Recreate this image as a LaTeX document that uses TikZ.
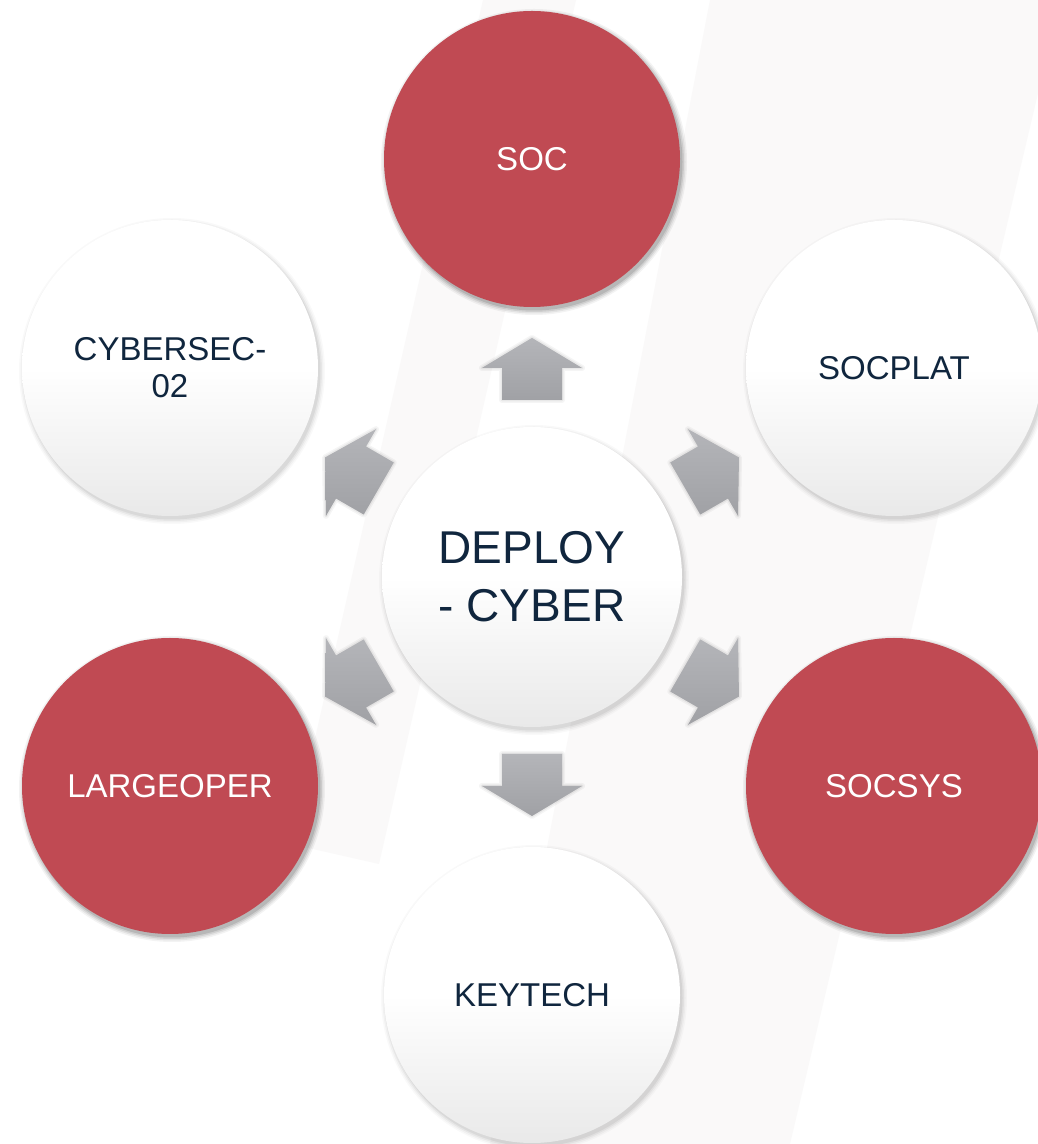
\documentclass[tikz,border=0pt]{standalone}
\usepackage{fontspec}
\setmainfont{Liberation Sans}
\usetikzlibrary{calc}
\pgfdeclarelayer{bgband}
\pgfdeclarelayer{shadow}
\pgfsetlayers{bgband,shadow,main}
\definecolor{redc}{RGB}{192,74,83}
\definecolor{txt}{RGB}{16,38,62}
\definecolor{band}{RGB}{250,249,249}
\definecolor{arrtop}{RGB}{180,181,185}
\definecolor{arrbot}{RGB}{160,161,165}
\definecolor{wbot}{RGB}{233,233,233}
\begin{document}
\begin{tikzpicture}[x=1pt,y=1pt,
  base/.style={circle, inner sep=0pt, minimum size=296pt, text=txt,
    font=\fontsize{33}{37}\selectfont, align=center},
  redball/.style={base, fill=redc, text=white},
  whiteball/.style={base, top color=white, bottom color=wbot, middle color=white},
  hub/.style={whiteball, minimum size=300pt, font=\fontsize{46}{58}\selectfont},
  arrowpath/.style={insert path={
    ($(hubnode.center)+(#1:177)+(#1+90:-30)$) --
    ($(hubnode.center)+(#1:209)+(#1+90:-30)$) --
    ($(hubnode.center)+(#1:209)+(#1+90:-50)$) --
    ($(hubnode.center)+(#1:239)$) --
    ($(hubnode.center)+(#1:209)+(#1+90:50)$) --
    ($(hubnode.center)+(#1:209)+(#1+90:30)$) --
    ($(hubnode.center)+(#1:177)+(#1+90:30)$) -- cycle}},
  arrowfill/.style={top color=arrtop, bottom color=arrbot}
]
\useasboundingbox (0,0) rectangle (1038,1144);
\begin{pgfonlayer}{bgband}
  \fill[white] (0,0) rectangle (1038,1144);
  \fill[band] (483,1144) -- (576,1144) -- (379,280) -- (291,300) -- cycle;
  \fill[band] (710,1144) -- (1060,1144) -- (790,0) -- (490,0) -- cycle;
\end{pgfonlayer}

% nodes
\node[hub] (hubnode) at (532,567) {DEPLOY\\- CYBER};
\node[redball]   (soc)      at (532,985) {SOC};
\node[whiteball] (socplat)  at (894,776) {SOCPLAT};
\node[redball]   (socsys)   at (894,358) {SOCSYS};
\node[whiteball] (keytech)  at (532,149) {KEYTECH};
\node[redball]   (largeop)  at (170,358) {LARGEOPER};
\node[whiteball] (cybersec) at (170,776) {CYBERSEC-\\02};

% shadows of circles
\begin{pgfonlayer}{shadow}
  \foreach \n/\r/\s in {hubnode/150/0.8, soc/148/1.6, socplat/148/0.8, socsys/148/1.6,
                        keytech/148/0.8, largeop/148/1.6, cybersec/148/0.8}{
    \foreach \k/\o in {5/0.03,3.5/0.04,2/0.055,0.5/0.07}{
      \fill[black, opacity=\o*\s] ($(\n.center)+(2,-3)$) circle[radius=\r+\k];
    }
  }
\end{pgfonlayer}

% block arrows
\foreach \a in {90,30,-30,-90,-150,150}{
  \begin{pgfonlayer}{shadow}
    \begin{scope}[xshift=2pt, yshift=-3pt]
      \draw[black, opacity=0.04, line width=6pt, line join=round, arrowpath=\a];
      \draw[black, opacity=0.05, line width=3pt, line join=round, arrowpath=\a];
      \fill[black, opacity=0.08, arrowpath=\a];
    \end{scope}
  \end{pgfonlayer}
  \shade[arrowfill, arrowpath=\a];
}
\end{tikzpicture}
\end{document}
